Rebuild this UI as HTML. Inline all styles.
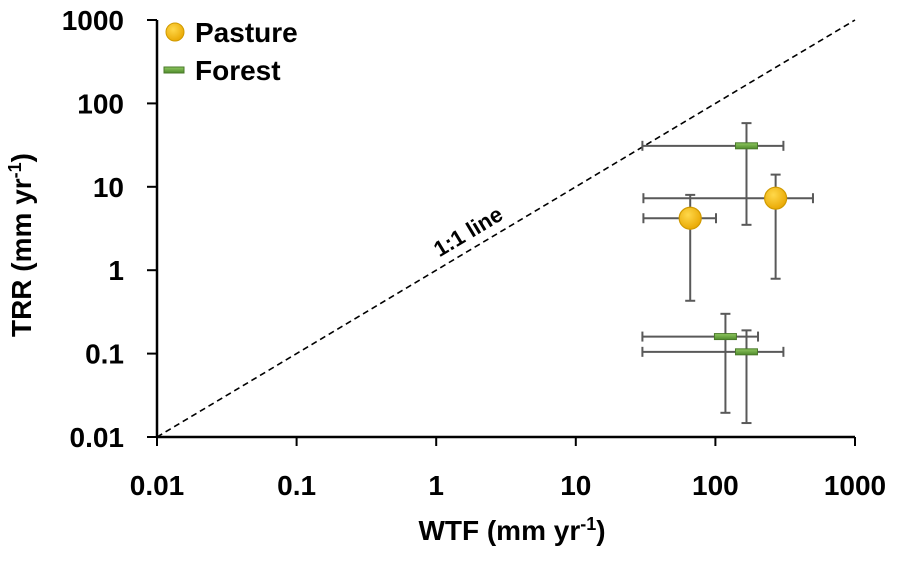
<!DOCTYPE html>
<html><head><meta charset="utf-8"><style>
body{margin:0;background:#fff;}
svg text{font-family:"Liberation Sans",Arial,sans-serif;font-weight:bold;fill:#000;}
</style></head><body>
<svg id="chart" width="901" height="560" viewBox="0 0 901 560" xmlns="http://www.w3.org/2000/svg">
<defs>
<radialGradient id="gold" cx="0.4" cy="0.35" r="0.7"><stop offset="0" stop-color="#ffd84a"/><stop offset="1" stop-color="#e8a600"/></radialGradient>
<linearGradient id="green" x1="0" y1="0" x2="0" y2="1"><stop offset="0" stop-color="#8fc860"/><stop offset="1" stop-color="#4f8a2c"/></linearGradient>
</defs>
<g id="plot"></g>
</svg>
<script>
const xTicks=[0.01,0.1,1,10,100,1000];
const yTicks=[0.01,0.1,1,10,100,1000];
const tickLabels=["0.01","0.1","1","10","100","1000"];
const pastureX=[66,270];
const pastureY=[4.2,7.3];
const pastureXLo=[30.5,30.5];
const pastureXHi=[101,500];
const pastureYLo=[0.43,0.79];
const pastureYHi=[8,14];
const forestX=[167,118,167];
const forestY=[31,0.16,0.105];
const forestXLo=[30,30,30];
const forestXHi=[307,202,307];
const forestYLo=[3.5,0.0195,0.0147];
const forestYHi=[58,0.30,0.19];

const X0=157,X1=855,Y0=437,Y1=20;
const sx=v=>X0+(Math.log10(v)+2)/5*(X1-X0);
const sy=v=>Y0-(Math.log10(v)+2)/5*(Y0-Y1);
const NS="http://www.w3.org/2000/svg";
const g=document.getElementById('plot');
function mk(t,a,p){const e=document.createElementNS(NS,t);for(const k in a)e.setAttribute(k,a[k]);(p||g).appendChild(e);return e;}

let l=mk('line',{x1:sx(0.01),y1:sy(0.01),x2:sx(1000),y2:sy(1000),stroke:'#000','stroke-width':1.6,'stroke-dasharray':'6,4'});


let lt=mk('text',{x:472,y:238,'font-size':22,'text-anchor':'middle',transform:'rotate(-31 472 238)'});
lt.textContent='1:1 line';



let ya=mk('line',{x1:X0,y1:Y1,x2:X0,y2:Y0,stroke:'#000','stroke-width':2.5});


let xa=mk('line',{x1:X0,y1:Y0,x2:X1,y2:Y0,stroke:'#000','stroke-width':2.5});


yTicks.forEach((v,i)=>{
  let t=mk('line',{x1:X0-10,y1:sy(v),x2:X0,y2:sy(v),stroke:'#000','stroke-width':2});
  
  
  let tx=mk('text',{x:124,y:sy(v)+10,'font-size':28,'text-anchor':'end'});
  tx.textContent=tickLabels[i];
  
  
});
xTicks.forEach((v,i)=>{
  let t=mk('line',{x1:sx(v),y1:Y0,x2:sx(v),y2:Y0+9,stroke:'#000','stroke-width':2});
  
  
  let tx=mk('text',{x:sx(v),y:495,'font-size':28,'text-anchor':'middle'});
  tx.textContent=tickLabels[i];
  
  
});
let xt=mk('text',{x:512,y:540,'font-size':28,'text-anchor':'middle'});
xt.innerHTML='WTF (mm yr<tspan dy="-10" font-size="18">-1</tspan><tspan dy="10">)</tspan>';


let yt=mk('text',{x:0,y:0,'font-size':28,'text-anchor':'middle',transform:'translate(31 245) rotate(-90)'});
yt.innerHTML='TRR (mm yr<tspan dy="-10" font-size="18">-1</tspan><tspan dy="10">)</tspan>';



function errbars(x,y,xl,xh,yl,yh){
  const c='#595959',w=2;
  mk('line',{x1:sx(xl),y1:sy(y),x2:sx(xh),y2:sy(y),stroke:c,'stroke-width':w});
  mk('line',{x1:sx(xl),y1:sy(y)-5,x2:sx(xl),y2:sy(y)+5,stroke:c,'stroke-width':w});
  mk('line',{x1:sx(xh),y1:sy(y)-5,x2:sx(xh),y2:sy(y)+5,stroke:c,'stroke-width':w});
  mk('line',{x1:sx(x),y1:sy(yl),x2:sx(x),y2:sy(yh),stroke:c,'stroke-width':w});
  mk('line',{x1:sx(x)-5,y1:sy(yl),x2:sx(x)+5,y2:sy(yl),stroke:c,'stroke-width':w});
  mk('line',{x1:sx(x)-5,y1:sy(yh),x2:sx(x)+5,y2:sy(yh),stroke:c,'stroke-width':w});
}
forestX.forEach((v,i)=>errbars(v,forestY[i],forestXLo[i],forestXHi[i],forestYLo[i],forestYHi[i]));
pastureX.forEach((v,i)=>errbars(v,pastureY[i],pastureXLo[i],pastureXHi[i],pastureYLo[i],pastureYHi[i]));
forestX.forEach((v,i)=>{
  let r=mk('rect',{x:sx(v)-11,y:sy(forestY[i])-3,width:22,height:6,fill:'url(#green)',stroke:'#4a7a2a','stroke-width':1});
  
  
});
pastureX.forEach((v,i)=>{
  let c=mk('circle',{cx:sx(v),cy:sy(pastureY[i]),r:11,fill:'url(#gold)',stroke:'#d09a00','stroke-width':1.2});
  
  
});
let lc=mk('circle',{cx:175,cy:32,r:9,fill:'url(#gold)',stroke:'#d09a00','stroke-width':1});


let l1=mk('text',{x:195,y:42,'font-size':28});
l1.textContent='Pasture';


let lr=mk('rect',{x:164,y:67,width:20,height:6,fill:'url(#green)',stroke:'#4a7a2a','stroke-width':1});


let l2=mk('text',{x:195,y:80,'font-size':28});
l2.textContent='Forest';


</script>
</body></html>
